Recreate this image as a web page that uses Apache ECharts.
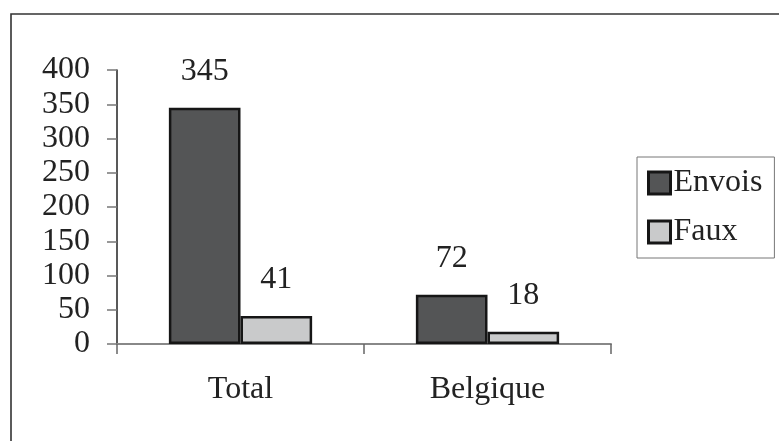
<!DOCTYPE html>
<html>
<head>
<meta charset="utf-8">
<script src="https://cdn.jsdelivr.net/npm/echarts@6/dist/echarts.min.js"></script>
<style>
  html, body { margin: 0; padding: 0; background: #fff; }
  #chart { width: 779px; height: 441px; }
</style>
</head>
<body>
<div id="chart"></div>
<script>
// Categories and series
var categories = ['Total', 'Belgique'];
var envois = [345, 72];
var faux = [41, 18];
var seriesNames = ['Envois', 'Faux'];

var FONT = "'Liberation Serif', 'Times New Roman', serif";
var TEXT = '#222';
var FS = 32;

var chart = echarts.init(document.getElementById('chart'), null, { renderer: 'canvas' });

function barSeries(name, data, color) {
  return {
    name: name,
    type: 'bar',
    data: data,
    barGap: '0%',
    barCategoryGap: '42%',
    itemStyle: { color: color, borderColor: '#161616', borderWidth: 2.5 },
    label: {
      show: true,
      position: 'top',
      distance: 20,
      fontFamily: FONT,
      fontSize: FS,
      color: TEXT
    }
  };
}

chart.setOption({
  backgroundColor: '#fff',
  animation: false,
  graphic: [{
    type: 'rect',
    shape: { x: 11, y: 14, width: 820, height: 500 },
    style: { fill: 'none', stroke: '#333', lineWidth: 1.6 },
    silent: true
  }],
  grid: { left: 117, right: 168, top: 70, bottom: 97 },
  legend: {
    orient: 'vertical',
    left: 637,
    top: 157,
    width: 140,
    padding: [10, 12, 10, 10],
    itemGap: 17,
    itemWidth: 22,
    itemHeight: 22,
    borderColor: '#777',
    borderWidth: 1,
    icon: 'rect',
    textStyle: { fontFamily: FONT, fontSize: FS, color: TEXT, padding: [0, 0, 0, -2] },
    itemStyle: { borderColor: '#161616', borderWidth: 3 },
    data: seriesNames
  },
  xAxis: {
    type: 'category',
    data: categories,
    axisLine: { lineStyle: { color: '#888', width: 2 } },
    axisTick: { show: true, length: 10, lineStyle: { color: '#666', width: 1.5 } },
    axisLabel: { fontFamily: FONT, fontSize: FS, color: TEXT, margin: 30 }
  },
  yAxis: {
    type: 'value',
    min: 0,
    max: 400,
    interval: 50,
    splitLine: { show: false },
    axisLine: { show: true, lineStyle: { color: '#222', width: 1.5 } },
    axisTick: { show: true, length: 10, lineStyle: { color: '#777', width: 1.5 } },
    axisLabel: { fontFamily: FONT, fontSize: FS, color: TEXT, margin: 27 }
  },
  series: [
    barSeries(seriesNames[0], envois, '#545556'),
    barSeries(seriesNames[1], faux, '#c9cacb')
  ]
});
</script>
</body>
</html>
